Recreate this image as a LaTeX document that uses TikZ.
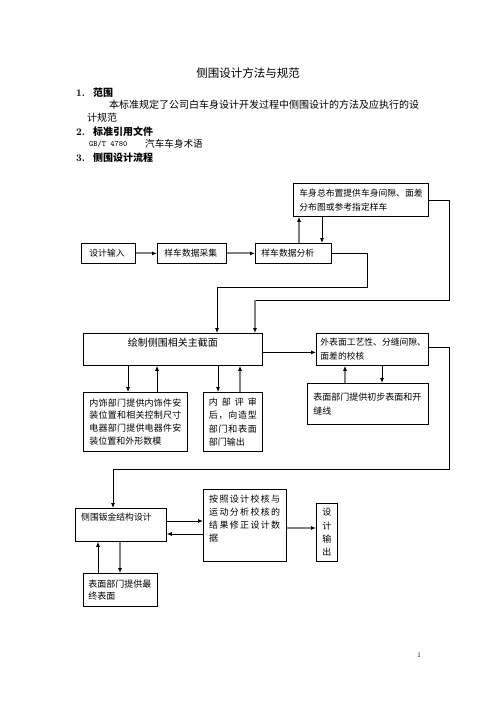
\documentclass[tikz,border=0pt]{standalone}
\usepackage{fontspec}
\usetikzlibrary{arrows.meta}
\newfontfamily\cjk{Noto Sans CJK SC}
\newcommand{\spreadline}[2]{\makebox[#1][s]{#2}}
\tikzset{ %流程图样式
    box/.style={draw, line width=0.8pt, inner sep=0pt, align=left, anchor=north west,
        font=\cjk\fontsize{8.8}{14}\selectfont},
    txt/.style={inner sep=0pt, anchor=west, font=\cjk\fontsize{10}{13}\selectfont},
    bline/.style={line width=0.8pt},
    barrow/.style={bline, -{Latex[length=5pt,width=4pt]}},
    garrow/.style={line width=2pt, draw=gray, -{Latex[length=5pt,width=4pt,black]}},
}

\begin{document}
\begin{tikzpicture}[x=1pt,y=-1pt]
    \useasboundingbox (0,0) rectangle (496,702);
    % 标题与正文
    \node[txt,anchor=center,font=\cjk\fontsize{11.5}{14}\selectfont] (title) at (248,73) {侧围设计方法与规范};
    \node[txt,font=\bfseries\fontsize{10}{12}\selectfont] (n1) at (76,93) {1.};
    \node[txt,font=\cjk\bfseries\fontsize{10}{12}\selectfont] (h1) at (93,93) {范围};
    \node[txt] (p1) at (109,105) {本标准规定了公司白车身设计开发过程中侧围设计的方法及应执行的设};
    \node[txt] (p2) at (87,118) {计规范};
    \node[txt,font=\bfseries\fontsize{10}{12}\selectfont] (n2) at (76,132) {2.};
    \node[txt,font=\cjk\bfseries\fontsize{10}{12}\selectfont] (h2) at (93,132) {标准引用文件};
    \node[txt,font=\ttfamily\fontsize{8}{10}\selectfont] (gb) at (89,144) {GB/T 4780};
    \node[txt,font=\cjk\fontsize{9.6}{12}\selectfont] (gbt) at (145,144) {汽车车身术语};
    \node[txt,font=\bfseries\fontsize{10}{12}\selectfont] (n3) at (76,158) {3.};
    \node[txt,font=\cjk\bfseries\fontsize{10}{12}\selectfont] (h3) at (93,158) {侧围设计流程};
    \node[txt,anchor=center,font=\fontsize{7}{8}\selectfont] (pg) at (419,655) {1};
    % 方框
    \node[box,minimum width=135pt,minimum height=33pt,text width=123pt] (zbz) at (293,183)
        {车身总布置提供车身间隙、面差\\分布图或参考指定样车};
    \node[box,minimum width=54pt,minimum height=20pt,text width=38pt] (srr) at (81,243) {设计输入};
    \node[box,minimum width=69pt,minimum height=20pt,text width=55pt] (cj) at (157,243) {样车数据采集};
    \node[box,minimum width=76pt,minimum height=20pt,text width=64pt] (fx) at (255,243) {样车数据分析};
    \node[box,minimum width=179pt,minimum height=32pt] (jm) at (83,333) {};
    \node[txt,anchor=center] (jmt) at ([yshift=-10pt]jm.north) {绘制侧围相关主截面};
    \node[box,minimum width=112pt,minimum height=32pt,text width=104pt] (jh) at (316,333)
        {外表面工艺性、分缝间隙、\\面差的校核};
    \node[box,minimum width=104pt,minimum height=59pt,text width=92pt,
        font=\cjk\fontsize{9}{12.7}\selectfont] (ns) at (83,392)
        {\spreadline{92pt}{内\hfill 饰\hfill 部\hfill 门\hfill 提\hfill 供\hfill 内\hfill 饰\hfill 件\hfill 安}\\
         \spreadline{92pt}{装\hfill 位\hfill 置\hfill 和\hfill 相\hfill 关\hfill 控\hfill 制\hfill 尺\hfill 寸}\\
         \spreadline{92pt}{电\hfill 器\hfill 部\hfill 门\hfill 提\hfill 供\hfill 电\hfill 器\hfill 件\hfill 安}\\
         装位置和外形数模};
    \node[box,minimum width=59pt,minimum height=59pt,text width=48pt,
        font=\cjk\fontsize{9}{13.3}\selectfont] (ps) at (203,392)
        {\spreadline{48pt}{内\hfill 部\hfill 评\hfill 审}\\
         \spreadline{48pt}{后\hfill ，\hfill 向\hfill 造\hfill 型}\\
         \spreadline{48pt}{部\hfill 门\hfill 和\hfill 表\hfill 面}\\
         部门输出};
    \node[box,minimum width=121pt,minimum height=41pt,text width=109pt,
        font=\cjk\fontsize{9}{14}\selectfont] (bm1) at (307,383)
        {表面部门提供初步表面和开\\缝线};
    \node[box,minimum width=91pt,minimum height=33pt] (bj) at (75,508) {};
    \node[txt,font=\cjk\fontsize{8.8}{12}\selectfont] (bjt) at ([xshift=6pt,yshift=-9pt]bj.north west) {侧围钣金结构设计};
    \node[box,minimum width=83pt,minimum height=72pt] (xz) at (203,489) {};
    \node[txt,anchor=north west,align=left,font=\cjk\fontsize{9}{13}\selectfont] (xzt)
        at ([xshift=6pt,yshift=-6pt]xz.north west)
        {\spreadline{71pt}{按\hfill 照\hfill 设\hfill 计\hfill 校\hfill 核\hfill 与}\\
         \spreadline{71pt}{运\hfill 动\hfill 分\hfill 析\hfill 校\hfill 核\hfill 的}\\
         \spreadline{71pt}{结\hfill 果\hfill 修\hfill 正\hfill 设\hfill 计\hfill 数}\\
         据};
    \node[box,minimum width=21pt,minimum height=58pt,align=center,
        font=\cjk\fontsize{9}{13.4}\selectfont] (sc) at (316,503) {设\\计\\输\\出};
    \node[box,minimum width=74pt,minimum height=33pt,text width=64pt,
        font=\cjk\fontsize{9}{12}\selectfont] (bm2) at (83,573) {表面部门提供最\\终表面};
    % 折线拐点
    \coordinate (c1) at (367,287);
    \coordinate (c2) at (449,300);
    \coordinate (c3) at (255,300);
    \coordinate (c4) at (449,469);
    % 连线
    \draw[garrow] (srr) -- (cj);
    \draw[garrow] (cj) -- (fx);
    \draw[garrow] ([xshift=44pt]fx.north west) -- ([xshift=6pt]zbz.south west);
    \draw[barrow] ([xshift=29pt]zbz.south west) -- ([xshift=67pt]fx.north west);
    \draw[barrow] (fx.east) -| (c1) -| ([xshift=134pt]jm.north west);
    \draw[bline] (zbz.east) -| (c2) -- (c3);
    \draw[garrow] (c3) -- ([xshift=172pt]jm.north west);
    \draw[barrow] ([yshift=-3pt]jm.east) -- ([yshift=-3pt]jh.west);
    \draw[barrow] ([yshift=2pt]jh.east) -| (c4) -| ([xshift=38pt]bj.north west);
    \draw[barrow] ([xshift=45pt]jm.south west) -- ([xshift=45pt]ns.north west);
    \draw[barrow] ([xshift=74pt]ns.north west) -- ([xshift=74pt]jm.south west);
    \draw[barrow] ([xshift=135pt]jm.south west) -- ([xshift=15pt]ps.north west);
    \draw[garrow] ([xshift=37pt]ps.north west) -- ([xshift=157pt]jm.south west);
    \draw[garrow] ([xshift=38pt]bm1.north west) -- ([xshift=29pt]jh.south west);
    \draw[barrow] ([xshift=66pt]jh.south west) -- ([xshift=75pt]bm1.north west);
    \draw[barrow] ([yshift=-13pt]bj.north east) -- ([yshift=-32pt]xz.north west);
    \draw[barrow] ([yshift=-45pt]xz.north west) -- ([yshift=-26pt]bj.north east);
    \draw[garrow] ([yshift=-39pt]xz.north east) -- ([yshift=-25pt]sc.north west);
    \draw[barrow] ([xshift=15pt]bm2.north west) -- ([xshift=23pt]bj.south west);
    \draw[garrow] ([xshift=45pt]bj.south west) -- ([xshift=37pt]bm2.north west);
\end{tikzpicture}
\end{document}
